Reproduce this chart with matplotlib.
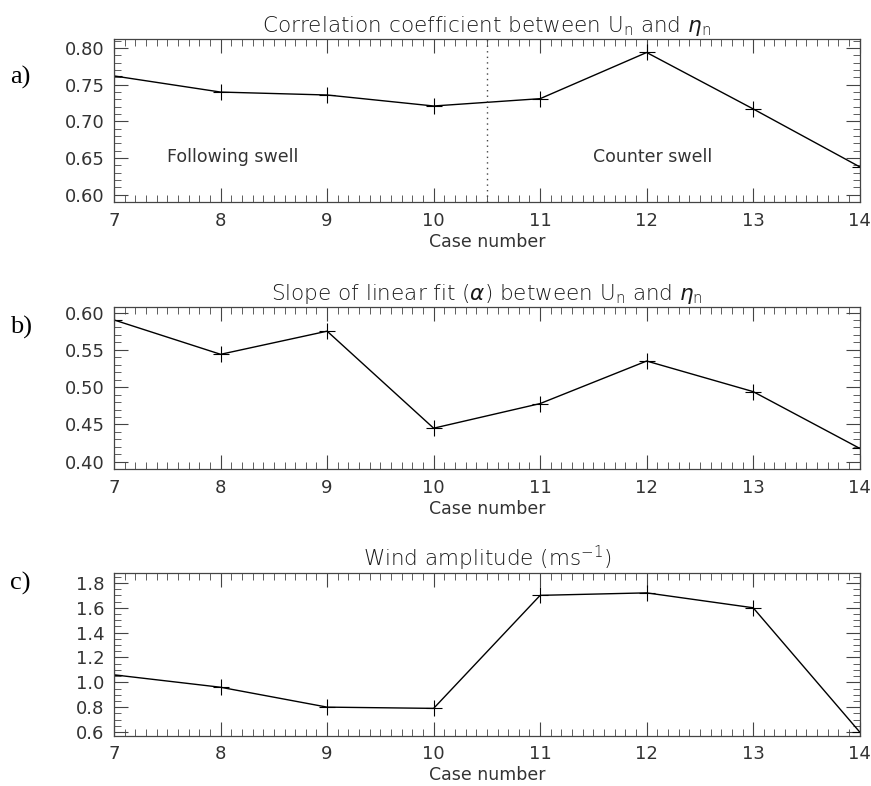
import numpy as np
import matplotlib
matplotlib.use("Agg")
import matplotlib.pyplot as plt
from matplotlib.ticker import MultipleLocator, FormatStrFormatter

cases = [7, 8, 9, 10, 11, 12, 13, 14]
corr = [0.762, 0.740, 0.736, 0.721, 0.731, 0.794, 0.717, 0.638]
slope = [0.590, 0.544, 0.575, 0.445, 0.478, 0.535, 0.494, 0.418]
wind = [1.06, 0.96, 0.80, 0.79, 1.70, 1.72, 1.60, 0.60]

titles = [r"Correlation coefficient between U$_\mathregular{n}$ and $\eta_\mathregular{n}$",
          r"Slope of linear fit ($\alpha$) between U$_\mathregular{n}$ and $\eta_\mathregular{n}$",
          r"Wind amplitude (ms$^\mathregular{-1}$)"]
panel_labels = ["a)", "b)", "c)"]
series = [corr, slope, wind]
ylims = [(0.59, 0.812), (0.39, 0.608), (0.57, 1.88)]
ymajor = [0.05, 0.05, 0.2]
yminor = [0.01, 0.01, 0.05]
yfmt = ["%.2f", "%.2f", "%.1f"]

plt.rcParams["font.family"] = "DejaVu Sans"
plt.rcParams["mathtext.fontset"] = "custom"
plt.rcParams["mathtext.rm"] = "DejaVu Sans:light"
plt.rcParams["mathtext.it"] = "DejaVu Sans:italic:light"
plt.rcParams["mathtext.bf"] = "DejaVu Sans:bold"
txt = "#333333"

fig = plt.figure(figsize=(8.71, 7.86), dpi=100)
bottoms = [0.743, 0.403, 0.064]
label_y = [0.902, 0.583, 0.258]

for i in range(3):
    ax = fig.add_axes([0.131, bottoms[i], 0.856, 0.207])
    ax.plot(cases, series[i], color="black", lw=1.0, marker="+", ms=11, mew=0.8)
    ax.set_xlim(7, 14)
    ax.set_ylim(*ylims[i])
    ax.xaxis.set_major_locator(MultipleLocator(1))
    ax.xaxis.set_minor_locator(MultipleLocator(0.1))
    ax.yaxis.set_major_locator(MultipleLocator(ymajor[i]))
    ax.yaxis.set_minor_locator(MultipleLocator(yminor[i]))
    ax.yaxis.set_major_formatter(FormatStrFormatter(yfmt[i]))
    ax.tick_params(which="both", direction="in", top=True, right=True,
                   colors="#444444", labelcolor=txt, labelsize=13)
    ax.tick_params(which="major", length=10, width=0.8, pad=7)
    ax.tick_params(which="minor", length=5, width=0.6)
    for s in ax.spines.values():
        s.set_color("#444444")
        s.set_linewidth(0.9)
    ax.set_xlabel("Case number", color=txt, fontsize=12.5, labelpad=2)
    ax.set_title(titles[i], color="#1a1a1a", fontsize=15.5, pad=5, fontweight="light")
    fig.text(0.012, label_y[i], panel_labels[i], va="center",
             family="Liberation Serif", fontsize=19, color="black")

ax0 = fig.axes[0]
ax0.axvline(10.5, color="#444444", lw=1.0, ls=(0, (1, 3)))
ax0.text(8.11, 0.652, "Following swell", color=txt, fontsize=12.5, ha="center", va="center")
ax0.text(12.06, 0.652, "Counter swell", color=txt, fontsize=12.5, ha="center", va="center")

fig.savefig("out.png", dpi=100)
